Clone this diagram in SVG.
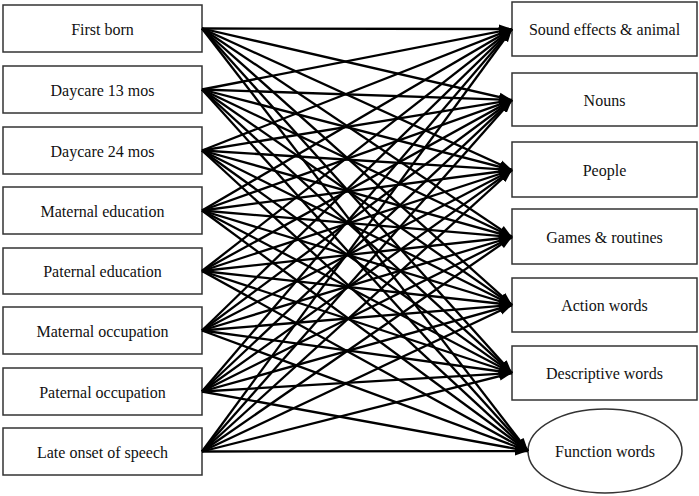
<svg xmlns="http://www.w3.org/2000/svg" width="699" height="496" viewBox="0 0 699 496">
<defs>
<style>
.box{fill:#fff;stroke:#333;stroke-width:1.5}
.t{font-family:"Liberation Serif","Times New Roman",serif;font-size:16px;fill:#111;text-anchor:middle}
.c line{stroke:#000;stroke-width:2.3;marker-end:url(#ah)}
</style>
<marker id="ah" markerUnits="userSpaceOnUse" markerWidth="14" markerHeight="10" refX="13" refY="5" orient="auto">
<path d="M0,0.5 L13,5 L0,9.5 z" fill="#000"/>
</marker>
</defs>
<rect width="699" height="496" fill="#fff"/>
<g id="n1"><rect class="box" x="3" y="5" width="199" height="47"/><text class="t" x="102.5" y="34.5">First born</text></g>
<g id="n2"><rect class="box" x="3" y="66" width="199" height="47"/><text class="t" x="102.5" y="95.5">Daycare 13 mos</text></g>
<g id="n3"><rect class="box" x="3" y="127" width="199" height="47"/><text class="t" x="102.5" y="156.5">Daycare 24 mos</text></g>
<g id="n4"><rect class="box" x="3" y="187" width="199" height="47"/><text class="t" x="102.5" y="216.5">Maternal education</text></g>
<g id="n5"><rect class="box" x="3" y="248" width="199" height="46"/><text class="t" x="102.5" y="277">Paternal education</text></g>
<g id="n6"><rect class="box" x="3" y="307" width="199" height="47"/><text class="t" x="102.5" y="336.5">Maternal occupation</text></g>
<g id="n7"><rect class="box" x="3" y="368" width="199" height="47"/><text class="t" x="102.5" y="397.5">Paternal occupation</text></g>
<g id="n8"><rect class="box" x="3" y="428" width="199" height="47"/><text class="t" x="102.5" y="457.5">Late onset of speech</text></g>
<g id="r1"><rect class="box" x="512" y="2" width="185" height="54"/><text class="t" x="604.5" y="35">Sound effects &amp; animal</text></g>
<g id="r2"><rect class="box" x="512" y="73" width="185" height="53"/><text class="t" x="604.5" y="105.5">Nouns</text></g>
<g id="r3"><rect class="box" x="512" y="142" width="185" height="55"/><text class="t" x="604.5" y="175.5">People</text></g>
<g id="r4"><rect class="box" x="512" y="209" width="185" height="55"/><text class="t" x="604.5" y="242.5">Games &amp; routines</text></g>
<g id="r5"><rect class="box" x="512" y="278" width="185" height="54"/><text class="t" x="604.5" y="311">Action words</text></g>
<g id="r6"><rect class="box" x="512" y="346" width="185" height="54"/><text class="t" x="604.5" y="379">Descriptive words</text></g>
<g id="r7"><ellipse class="box" cx="605" cy="451" rx="77" ry="42"/><text class="t" x="605" y="456.5">Function words</text></g>
<g class="c" id="connectors">
<line x1="202" y1="28.5" x2="512" y2="29"/><line x1="202" y1="28.5" x2="512" y2="100"/><line x1="202" y1="28.5" x2="512" y2="170"/><line x1="202" y1="28.5" x2="512" y2="237"/><line x1="202" y1="28.5" x2="512" y2="305"/><line x1="202" y1="28.5" x2="512" y2="373"/><line x1="202" y1="28.5" x2="528" y2="451"/>
<line x1="202" y1="89.5" x2="512" y2="29"/><line x1="202" y1="89.5" x2="512" y2="100"/><line x1="202" y1="89.5" x2="512" y2="170"/><line x1="202" y1="89.5" x2="512" y2="237"/><line x1="202" y1="89.5" x2="512" y2="305"/><line x1="202" y1="89.5" x2="512" y2="373"/><line x1="202" y1="89.5" x2="528" y2="451"/>
<line x1="202" y1="150.5" x2="512" y2="29"/><line x1="202" y1="150.5" x2="512" y2="100"/><line x1="202" y1="150.5" x2="512" y2="170"/><line x1="202" y1="150.5" x2="512" y2="237"/><line x1="202" y1="150.5" x2="512" y2="305"/><line x1="202" y1="150.5" x2="512" y2="373"/><line x1="202" y1="150.5" x2="528" y2="451"/>
<line x1="202" y1="210.5" x2="512" y2="29"/><line x1="202" y1="210.5" x2="512" y2="100"/><line x1="202" y1="210.5" x2="512" y2="170"/><line x1="202" y1="210.5" x2="512" y2="237"/><line x1="202" y1="210.5" x2="512" y2="305"/><line x1="202" y1="210.5" x2="512" y2="373"/><line x1="202" y1="210.5" x2="528" y2="451"/>
<line x1="202" y1="271" x2="512" y2="29"/><line x1="202" y1="271" x2="512" y2="100"/><line x1="202" y1="271" x2="512" y2="170"/><line x1="202" y1="271" x2="512" y2="237"/><line x1="202" y1="271" x2="512" y2="305"/><line x1="202" y1="271" x2="512" y2="373"/><line x1="202" y1="271" x2="528" y2="451"/>
<line x1="202" y1="330.5" x2="512" y2="29"/><line x1="202" y1="330.5" x2="512" y2="100"/><line x1="202" y1="330.5" x2="512" y2="170"/><line x1="202" y1="330.5" x2="512" y2="237"/><line x1="202" y1="330.5" x2="512" y2="305"/><line x1="202" y1="330.5" x2="512" y2="373"/><line x1="202" y1="330.5" x2="528" y2="451"/>
<line x1="202" y1="391.5" x2="512" y2="29"/><line x1="202" y1="391.5" x2="512" y2="100"/><line x1="202" y1="391.5" x2="512" y2="170"/><line x1="202" y1="391.5" x2="512" y2="237"/><line x1="202" y1="391.5" x2="512" y2="305"/><line x1="202" y1="391.5" x2="512" y2="373"/><line x1="202" y1="391.5" x2="528" y2="451"/>
<line x1="202" y1="451.5" x2="512" y2="29"/><line x1="202" y1="451.5" x2="512" y2="100"/><line x1="202" y1="451.5" x2="512" y2="170"/><line x1="202" y1="451.5" x2="512" y2="237"/><line x1="202" y1="451.5" x2="512" y2="305"/><line x1="202" y1="451.5" x2="512" y2="373"/><line x1="202" y1="451.5" x2="528" y2="451"/>
</g>
</svg>
